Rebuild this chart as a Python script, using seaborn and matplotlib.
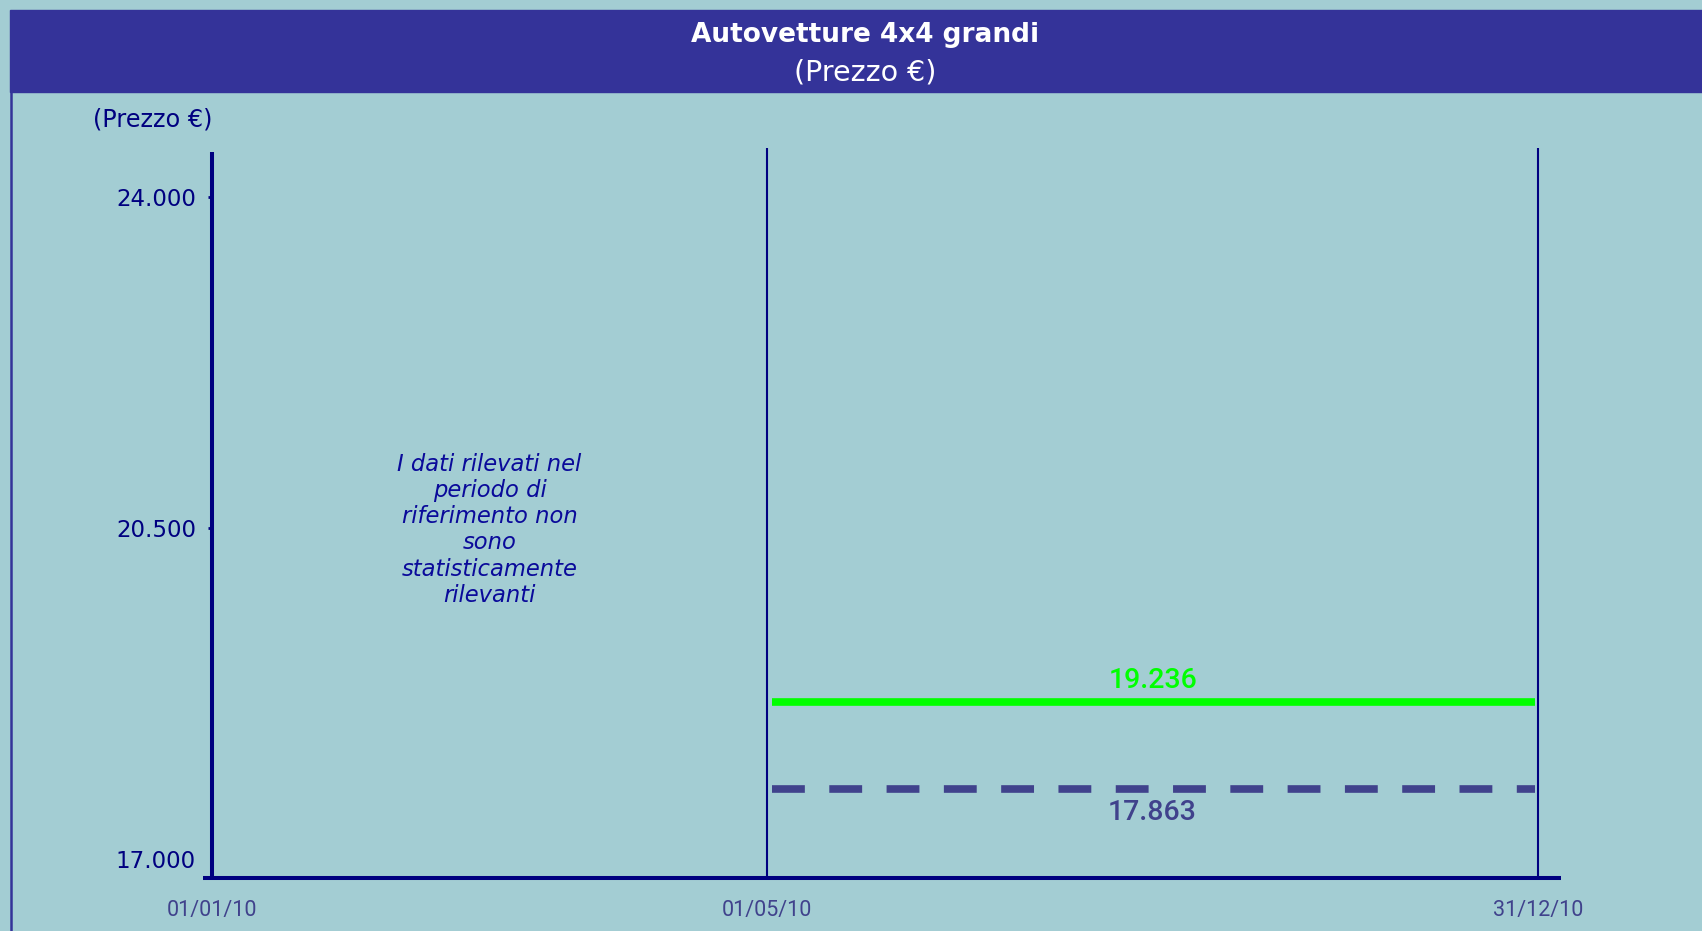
import pandas as pd
import matplotlib.pyplot as plt
import matplotlib.patches as mpatches
import matplotlib.lines as mlines
import seaborn as sns

# period boundaries (position on the time axis, as fraction of the plotted span)
period_pos = [0.0, 0.4186, 1.0]
period_labels = ['01/01/10', '01/05/10', '31/12/10']

# y axis ticks
y_ticks = [17000, 20500, 24000]
y_tick_labels = ['17.000', '20.500', '24.000']

# price levels over the second period
price_names = ['prezzo', 'riferimento']
price_values = [19236, 17863]
price_labels = ['19.236', '17.863']

note = 'I dati rilevati nel\nperiodo di\nriferimento non\nsono\nstatisticamente\nrilevanti'

BG = '#A3CDD3'
BAND = '#343399'
NAVY = '#000080'
GREEN = '#00FF00'
SLATE = '#40428C'

sns.set_theme(style='white')
plt.rcParams['font.family'] = ['DejaVu Sans']

fig = plt.figure(figsize=(17.02, 9.31), dpi=100, facecolor=BG)

# title band and left border
fig.patches.append(mpatches.Rectangle((10 / 1702, 1 - 92 / 931), 1, 82 / 931,
                                      transform=fig.transFigure, color=BAND, zorder=0))
fig.lines.append(mlines.Line2D([10.5 / 1702, 10.5 / 1702], [0, 1 - 92 / 931],
                               transform=fig.transFigure, color=BAND, linewidth=1.8))
fig.text(865 / 1702, 1 - 35 / 931, 'Autovetture 4x4 grandi', color='white',
         fontsize=19, fontweight='bold', ha='center', va='center')
fig.text(865 / 1702, 1 - 73 / 931, '(Prezzo €)', color='white',
         fontsize=20.5, ha='center', va='center')
fig.text(153 / 1702, 1 - 120 / 931, '(Prezzo €)', color=NAVY,
         fontsize=17.3, ha='center', va='center')

ax = fig.add_axes([203 / 1702, 1 - 878 / 931, 1358 / 1702, 730 / 931])
ax.set_facecolor('none')
ax.set_xlim(-0.0068, 1.0173)
ax.set_ylim(16799, 24518)

for s in ['top', 'right']:
    ax.spines[s].set_visible(False)
ax.spines['left'].set_position(('data', period_pos[0]))
ax.spines['left'].set_bounds(16799, 24476)
for s in ['left', 'bottom']:
    ax.spines[s].set_color(NAVY)
    ax.spines[s].set_linewidth(2.9)
    ax.spines[s].set_capstyle('butt')

# labels on major ticks, small marks only above the bottom one
ax.yaxis.remove_overlapping_locs = False
ax.set_yticks(y_ticks, y_tick_labels)
ax.set_yticks(y_ticks[1:], minor=True)
ax.tick_params(axis='y', which='major', left=True, length=0, labelcolor=NAVY,
               labelsize=16.5, pad=11.5)
ax.tick_params(axis='y', which='minor', left=True, length=3, width=2, color=NAVY,
               direction='out')

ax.set_xticks(period_pos, period_labels)
ax.tick_params(axis='x', bottom=False, length=0, pad=16, labelcolor=SLATE)
for t in ax.get_xticklabels():
    t.set_fontfamily('Roboto')
    t.set_fontsize(15.5)
ax.grid(False)

# period separators
for x in period_pos[1:]:
    ax.axvline(x, color=NAVY, linewidth=1.5)

ax.text((period_pos[0] + period_pos[1]) / 2, 0.477, note, transform=ax.get_xaxis_transform(),
        ha='center', va='center', style='italic', color='#0A0A9A', fontsize=16.3,
        linespacing=1.18)

# price lines on their own scale
ax2 = ax.twinx()
ax2.set_ylim(16458, 27979)
ax2.set_axis_off()

inset = 0.004
df = pd.DataFrame({
    'x': [period_pos[1] + inset, period_pos[2] - inset / 2] * 2,
    'price': [price_values[0]] * 2 + [price_values[1]] * 2,
    'serie': [price_names[0]] * 2 + [price_names[1]] * 2,
})
sns.lineplot(data=df[df['serie'] == 'prezzo'], x='x', y='price', color=GREEN,
             linewidth=5.5, ax=ax2, solid_capstyle='butt')
sns.lineplot(data=df[df['serie'] == 'riferimento'], x='x', y='price', color=SLATE,
             linewidth=5.5, ax=ax2, linestyle=(0, (4.3, 3.2)), dash_capstyle='butt')

mid = (period_pos[1] + period_pos[2]) / 2
ax2.annotate(price_labels[0], (mid, price_values[0]), xytext=(0, 15.5), textcoords='offset points',
             ha='center', va='center', color=GREEN, fontsize=20.5, family='Roboto',
             fontweight='medium')
ax2.annotate(price_labels[1], (mid, price_values[1]), xytext=(0, -16.8), textcoords='offset points',
             ha='center', va='center', color=SLATE, fontsize=20.5, family='Roboto',
             fontweight='medium')
ax2.set_xlim(ax.get_xlim())

fig.savefig('out.png', dpi=100, facecolor=BG)
